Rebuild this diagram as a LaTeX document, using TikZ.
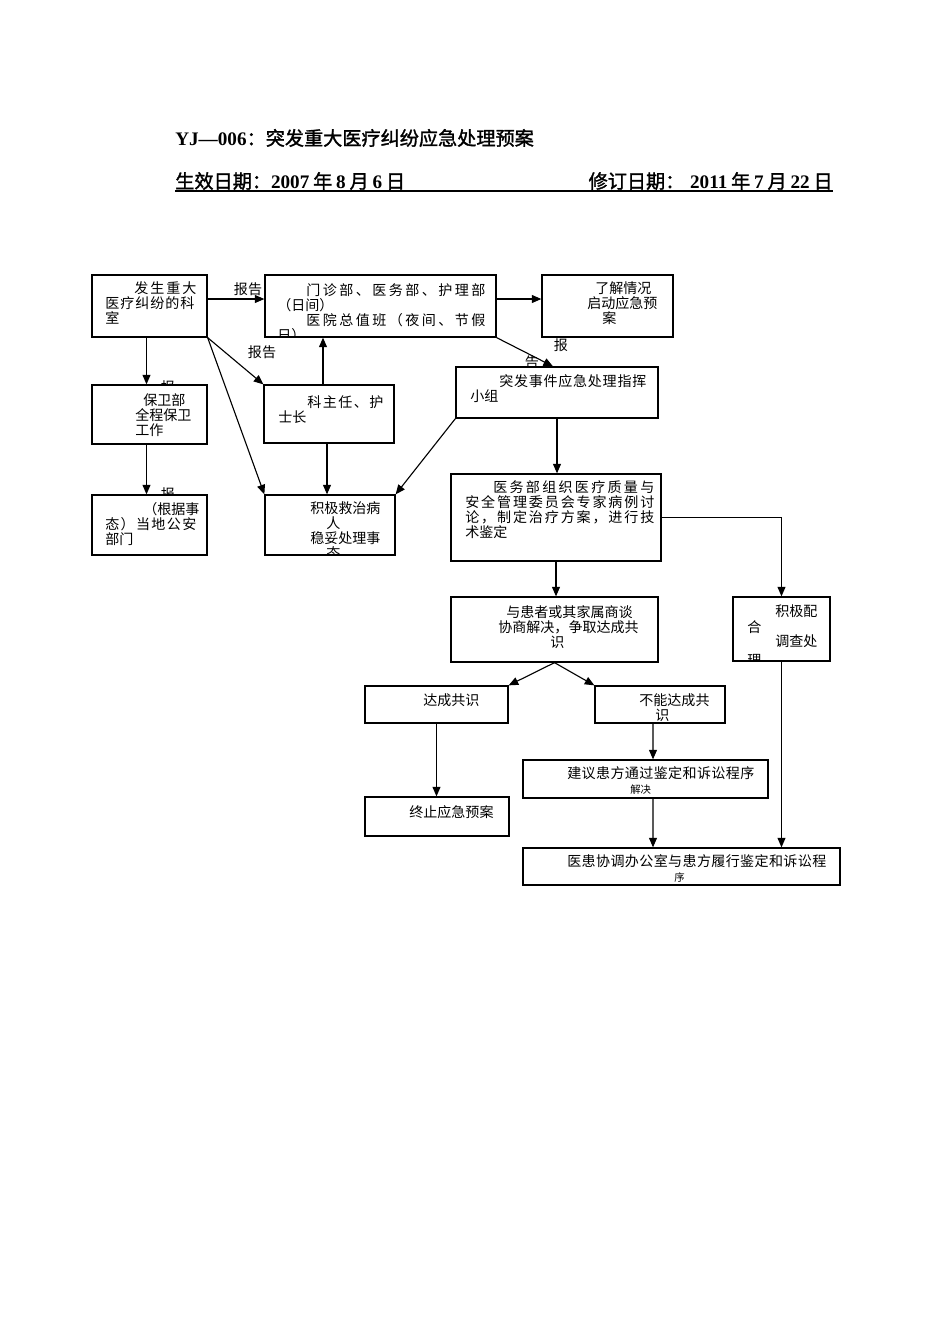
\documentclass[tikz,border=0pt]{standalone}
\usepackage{fontspec}
\usetikzlibrary{arrows.meta,fit}

\newfontfamily\cjk{Noto Sans CJK SC}
\newfontfamily\hcjk[FakeBold=1.5]{Noto Sans CJK SC}
\newfontfamily\hlat{Liberation Serif}

% one pixel of the page
\newdimen\px \px=0.6266pt
% spread characters over a given width
\def\spreadloop#1#2{#1\ifx\relax#2\else\hfill\expandafter\spreadloop\expandafter#2\fi}
\newcommand\spreadto[2]{\hbox to #1\px{\spreadloop#2\relax}}

\tikzset{
  box/.style={draw, line width=0.8pt, fill=white, inner sep=0pt},
  txt/.style={anchor=north west, inner sep=0pt, align=left,
    font=\cjk\fontsize{8.8pt}{9.4pt}\selectfont},
  lbl/.style={inner sep=0pt, font=\cjk\fontsize{8.8pt}{9.4pt}\selectfont},
  head/.style={inner sep=0pt, font=\fontsize{12pt}{14pt}\selectfont},
  arr/.style={line width=0.7pt, -{Triangle[length=6pt,width=5pt]}},
}

\begin{document}
\begin{tikzpicture}[x=0.6266pt, y=-0.6266pt]
\fill[white] (0,0) rectangle (950,1344);
\useasboundingbox (0,0) rectangle (950,1344);

% heading
\node[head, anchor=west] (title) at (175,138) {{\hlat\bfseries YJ—006}{\hcjk ：突发重大医疗纠纷应急处理预案}};
\node[head, anchor=west] (eff) at (175,181) {\hcjk 生效日期：{\hlat\bfseries 2007}\kern0.2em年\kern0.2em{\hlat\bfseries 8}\kern0.2em月\kern0.2em{\hlat\bfseries 6}\kern0.2em日};
\node[head, anchor=east] (rev) at (833,181) {\hcjk 修订日期：\kern0.3em{\hlat\bfseries 2011}\kern0.2em年\kern0.2em{\hlat\bfseries 7}\kern0.2em月\kern0.2em{\hlat\bfseries 22}\kern0.2em日};
\draw[line width=1.1pt] (175,191) -- (833,191);

% labels half covered by the boxes
\node[lbl] (rep3) at (168,387) {报};
\node[lbl] (rep4) at (168,494) {报};
\node[lbl] (rep5b) at (532,362) {告};

% boxes
\node[box, fit={(92,275) (207,337)}] (b1) {};
\node[box, fit={(265,275) (496,337)}] (b2) {};
\node[box, fit={(542,275) (673,337)}] (b3) {};
\node[box, fit={(92,385) (207,444)}] (b4) {};
\node[box, fit={(264,385) (394,443)}] (b5) {};
\node[box, fit={(456,367) (658,418)}] (b6) {};
\node[box, fit={(92,495) (207,555)}] (b7) {};
\node[box, fit={(265,495) (395,555)}] (b8) {};
\node[box, fit={(451,474) (661,561)}] (b9) {};
\node[box, fit={(451,597) (658,662)}] (b10) {};
\node[box, fit={(733,597) (830,661)}] (b11) {};
\node[box, fit={(365,686) (508,723)}] (b12) {};
\node[box, fit={(595,686) (725,723)}] (b13) {};
\node[box, fit={(523,760) (768,798)}] (b14) {};
\node[box, fit={(365,797) (509,836)}] (b15) {};
\node[box, fit={(523,848) (840,885)}] (b16) {};

% box texts
\node[txt] (t1) at (105,281) {\hspace*{29\px}\spreadto{62}{发生重大}\\\spreadto{89}{医疗纠纷的科}\\室};
\begin{scope}
\clip (b2.north west) rectangle (b2.south east);
\node[txt] (t2) at (277,283) {\hspace*{29\px}\spreadto{179}{门诊部、医务部、护理部}\\（日间）\\\hspace*{29\px}\spreadto{179}{医院总值班（夜间、节假}\\日）};
\end{scope}
\node[txt] (t3) at (587,281) {\hspace*{8\px}了解情况\\启动应急预\\\hspace*{15\px}案};
\node[txt] (t4) at (135,393) {\hspace*{8\px}保卫部\\全程保卫\\工作};
\node[txt] (t5) at (278,395) {\hspace*{29\px}\spreadto{76}{科主任、护}\\士长};
\node[txt] (t6) at (470,374) {\hspace*{29\px}\spreadto{147}{突发事件应急处理指挥}\\小组};
\node[txt] (t7) at (105,502) {\hspace*{38\px}\spreadto{53}{（根据事}\\\spreadto{91}{态）当地公安}\\部门};
\begin{scope}
\clip (b8.north west) rectangle (b8.south east);
\node[txt] (t8) at (310,501) {积极救治病\\\hspace*{16\px}人\\稳妥处理事\\\hspace*{16\px}态};
\end{scope}
\node[txt] (t9) at (465,480) {\hspace*{28\px}\spreadto{161}{医务部组织医疗质量与}\\\spreadto{189}{安全管理委员会专家病例讨}\\\spreadto{189}{论，制定治疗方案，进行技}\\术鉴定};
\node[txt] (t10) at (498,605) {\hspace*{8\px}与患者或其家属商谈\\协商解决，争取达成共\\\hspace*{52\px}识};
\begin{scope}
\clip (b11.north west) rectangle (b11.south east);
\node[txt] (t11a) at (747,620) {合\\[11.5pt]理};
\end{scope}
\node[txt] (t11b) at (775,604) {积极配\\[9.4pt]调查处};
\node[txt] (t12) at (423,693) {达成共识};
\node[txt] (t13) at (639,693) {不能达成共\\\hspace*{16\px}识};
\node[txt] (t14) at (567,766) {\spreadto{187}{建议患方通过鉴定和诉讼程序}\\\hspace*{63\px}{\fontsize{6.5pt}{7pt}\selectfont 解决}};
\node[txt] (t15) at (409,805) {终止应急预案};
\node[txt] (t16) at (567,854) {\spreadto{259}{医患协调办公室与患方履行鉴定和诉讼程}\\\hspace*{107\px}{\fontsize{6.5pt}{7pt}\selectfont 序}};

% connectors
\draw[arr] ([yshift=7\px]b1.east) -- ([yshift=7\px]b2.west);
\draw[arr] ([yshift=7\px]b2.east) -- ([yshift=7\px]b3.west);
\draw[arr] (b2.south east) -- ([xshift=-4\px]b6.north);
\draw[arr] ([xshift=-3\px]b1.south) -- ([xshift=-3\px]b4.north);
\draw[arr] ([xshift=-3\px]b4.south) -- ([xshift=-3\px]b7.north);
\draw[arr] (b1.south east) -- (b5.north west);
\draw[arr] (b1.south east) -- (b8.north west);
\coordinate (up5) at ([xshift=-6\px]b5.north);
\draw[arr] (up5) -- (up5 |- b2.south);
\draw[arr] ([xshift=-2\px]b5.south) -- ([xshift=-3\px]b8.north);
\draw[arr] (b6.south west) -- (b8.north east);
\draw[arr] (b6.south) -- (b6.south |- b9.north);
\draw[arr] (b9.south) -- (b9.south |- b10.north);
\draw[arr] (b9.east) -| (b11.north);
\draw[arr] (b10.south) -- (b12.north east);
\draw[arr] (b10.south) -- (b13.north west);
\draw[arr] (b12.south) -- (b12.south |- b15.north);
\draw[arr] ([xshift=-7\px]b13.south) -- ([xshift=7.5\px]b14.north);
\draw[arr] ([xshift=7.5\px]b14.south) -- ([xshift=-28.5\px]b16.north);
\draw[arr] (b11.south) -- (b11.south |- b16.north);

% labels
\node[lbl] (rep1) at (248,289) {报告};
\node[lbl] (rep2) at (262,352) {报告};
\node[lbl] (rep5a) at (561,345) {报};
\end{tikzpicture}
\end{document}
